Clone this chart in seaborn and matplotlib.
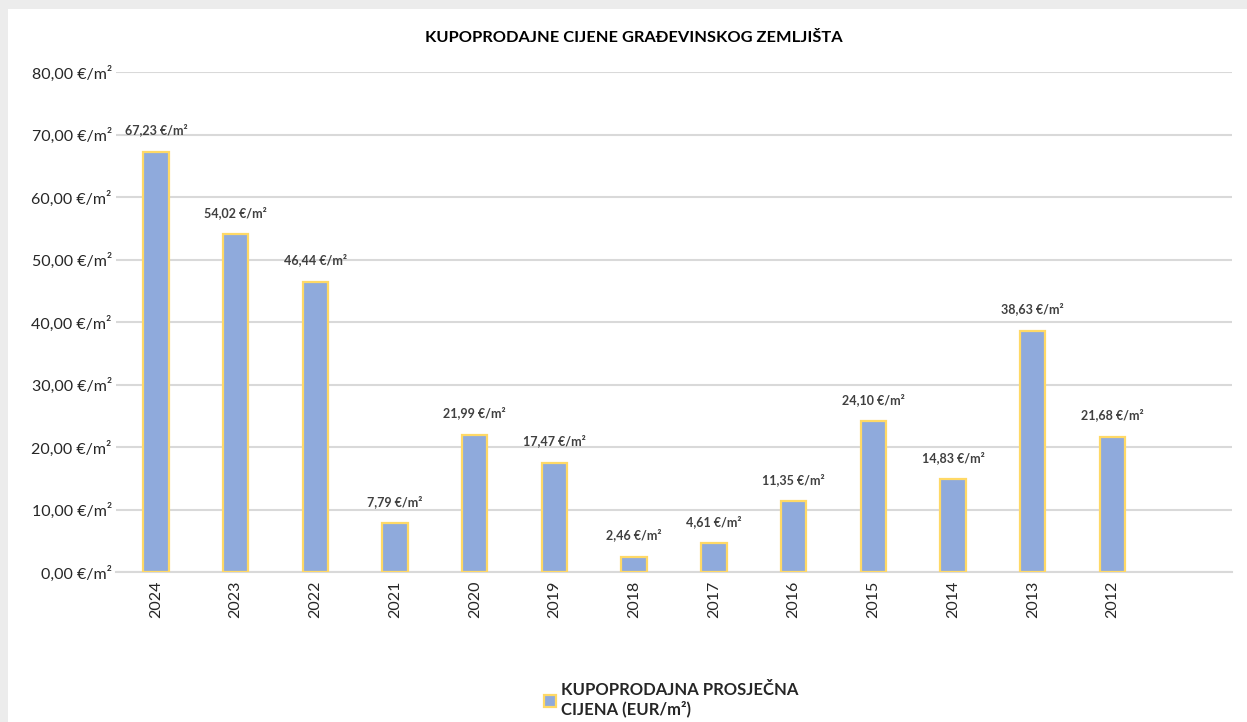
import pandas as pd
import numpy as np
import seaborn as sns
import matplotlib.pyplot as plt
from matplotlib.patches import Rectangle, Patch

years = ["2024", "2023", "2022", "2021", "2020", "2019", "2018",
         "2017", "2016", "2015", "2014", "2013", "2012"]
prices = [67.23, 54.02, 46.44, 7.79, 21.99, 17.47, 2.46,
          4.61, 11.35, 24.10, 14.83, 38.63, 21.68]
yticks = [0, 10, 20, 30, 40, 50, 60, 70, 80]

df = pd.DataFrame({"Godina": years, "Cijena": prices})

sns.set_theme(style="white")
plt.rcParams['font.family'] = ['Lato', 'DejaVu Sans']

fig = plt.figure(figsize=(12.47, 7.22), dpi=100, facecolor="#ececec")
# white card with grey shadow at top/left
fig.patches.append(Rectangle((8 / 1247, 0), 1, 1 - 9 / 722, transform=fig.transFigure,
                             facecolor="white", edgecolor="none", zorder=-10))
ax = fig.add_axes([116 / 1247, 150 / 722, 1116 / 1247, 500 / 722])
ax.set_facecolor("none")

sns.barplot(data=df, x="Godina", y="Cijena", ax=ax, color="#8faadc",
            edgecolor="#ffd966", linewidth=1.6, width=0.32, saturation=1, zorder=3)

ax.set_xlim(-0.5, 13.5)
ax.set_ylim(0, 80)
ax.set_yticks(yticks)
ax.set_yticklabels([f"{v},00 €/m²" for v in yticks], fontsize=11.5, color="#262626")
ax.tick_params(axis="y", length=0, pad=3)
ax.tick_params(axis="x", length=0, pad=6, labelrotation=90, labelsize=11.5, labelcolor="#262626")
ax.grid(axis="y", color="#d9d9d9", linewidth=1.5, zorder=0)
for s in ["top", "right", "left"]:
    ax.spines[s].set_visible(False)
ax.spines["bottom"].set_color("#d9d9d9")
ax.spines["bottom"].set_linewidth(1.5)
ax.set_xlabel("")
ax.set_ylabel("")

for i, v in enumerate(prices):
    ax.annotate(f"{v:.2f}".replace(".", ",") + " €/m²", (i, v), xytext=(0, 11),
                textcoords="offset points", ha="center", va="bottom",
                fontsize=9, fontweight="bold", color="#404040")

fig.text(634 / 1247, 1 - 38 / 722, "KUPOPRODAJNE CIJENE GRAĐEVINSKOG ZEMLJIŠTA",
         ha="center", va="center", fontsize=11.8, fontweight="bold", color="black")

handle = Patch(facecolor="#8faadc", edgecolor="#ffd966", linewidth=1.6)
fig.legend([handle], ["KUPOPRODAJNA PROSJEČNA\nCIJENA (EUR/m²)"],
           loc="center", bbox_to_anchor=(671 / 1247, 1 - 700 / 722), frameon=False,
           handlelength=0.7, handleheight=0.7, handletextpad=0.3,
           prop={"size": 12, "weight": "bold"})

fig.savefig("out.png", dpi=100, facecolor=fig.get_facecolor())
